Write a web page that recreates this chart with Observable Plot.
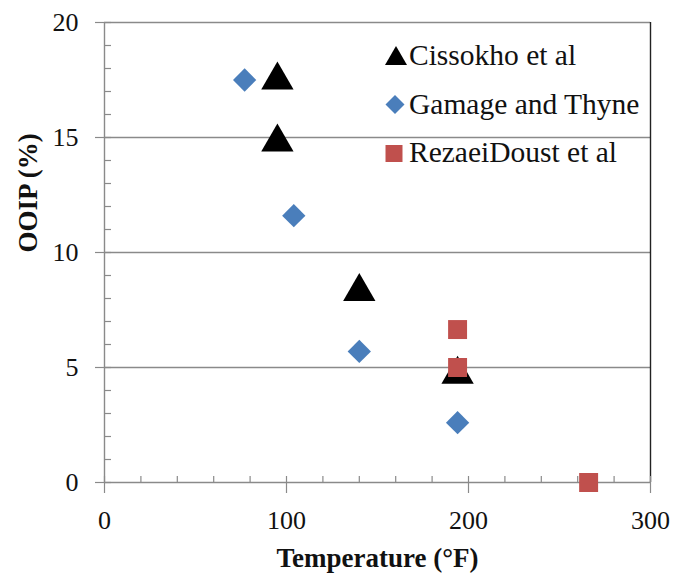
<!DOCTYPE html>
<html>
<head>
<meta charset="utf-8">
<script src="https://cdn.jsdelivr.net/npm/d3@7"></script>
<script src="https://cdn.jsdelivr.net/npm/@observablehq/plot@0.6"></script>
<style>
  html, body { margin: 0; padding: 0; background: #fff; }
  #wrap { position: relative; width: 673px; height: 578px; font-family: "Liberation Serif", "Times New Roman", serif; }
  #legend { position: absolute; left: 0; top: 0; width: 673px; height: 578px; pointer-events: none; overflow: visible; }
  .lg-text { font-family: "Liberation Serif", "Times New Roman", serif; font-size: 29.5px; fill: #111; }
</style>
</head>
<body>
<div id="wrap"></div>
<script>
// ---- Data ----
const seriesNames = ["Cissokho et al", "Gamage and Thyne", "RezaeiDoust et al"];
const seriesColors = ["#000000", "#4a7ebb", "#c0504d"];
const seriesSymbols = ["triangle", "diamond2", "square"];

const cissokhoTemp = [95, 95, 140, 194];
const cissokhoOOIP = [17.7, 15.0, 8.5, 4.9];

const gamageTemp = [77, 104, 140, 194];
const gamageOOIP = [17.5, 11.6, 5.7, 2.6];

const rezaeiTemp = [194, 194, 266];
const rezaeiOOIP = [6.65, 5.0, 0.0];

const xTicks = [0, 100, 200, 300];
const yTicks = [0, 5, 10, 15, 20];
const xMinorTicks = d3.range(0, 301, 20);
const yMinorTicks = d3.range(0, 21, 1);

const xTitle = "Temperature (°F)";
const yTitle = "OOIP (%)";

// ---- Build tables ----
const toRows = (xs, ys) => xs.map((x, i) => ({x, y: ys[i]}));
const cissokho = toRows(cissokhoTemp, cissokhoOOIP);
const gamage = toRows(gamageTemp, gamageOOIP);
const rezaei = toRows(rezaeiTemp, rezaeiOOIP);

const grid = "#8a8a8a";

const chart = Plot.plot({
  width: 673,
  height: 578,
  marginLeft: 104,
  marginRight: 23,
  marginTop: 22,
  marginBottom: 96,
  style: {fontFamily: "'Liberation Serif', 'Times New Roman', serif", fontSize: "26px", color: "#111", background: "#fff", overflow: "visible"},
  x: {domain: [0, 300]},
  y: {domain: [0, 20]},
  marks: [
    // gridlines
    Plot.ruleY(yTicks.filter(d => d > 0), {stroke: grid, strokeWidth: 1.4}),
    // axis lines
    Plot.ruleX([0], {stroke: grid, strokeWidth: 1.4}),
    Plot.ruleY([0], {stroke: grid, strokeWidth: 1.4}),
    Plot.ruleX([300], {stroke: "#222", strokeWidth: 1.4}),
    // minor ticks (inward)
    Plot.axisY({ticks: yMinorTicks, tickSize: -7, text: null, label: null, stroke: grid, strokeWidth: 1.2}),
    Plot.axisX({ticks: xMinorTicks, tickSize: -6, text: null, label: null, stroke: grid, strokeWidth: 1.2}),
    // major ticks with labels
    Plot.axisY({ticks: yTicks, tickSize: 9, tickPadding: 17, label: null, stroke: grid, strokeWidth: 1.2, tickFormat: d => String(d), fill: "#111"}),
    Plot.axisX({ticks: xTicks, tickSize: 11, tickPadding: 17, label: null, stroke: grid, strokeWidth: 1.2, tickFormat: d => String(d), fill: "#111"}),
    // axis titles
    Plot.text([xTitle], {frameAnchor: "bottom", dy: 84, fontWeight: "bold", fontSize: 27, fill: "#111"}),
    Plot.text([yTitle], {frameAnchor: "left", dx: -76, rotate: -90, fontWeight: "bold", fontSize: 27, fill: "#111"}),
    // data
    Plot.dot(gamage, {x: "x", y: "y", symbol: () => seriesSymbols[1], r: 10.5, fill: seriesColors[1], stroke: "none"}),
    Plot.dot(cissokho, {x: "x", y: "y", symbol: () => seriesSymbols[0], r: 12, dy: 4.7, fill: seriesColors[0], stroke: "none"}),
    Plot.dot(rezaei, {x: "x", y: "y", symbol: () => seriesSymbols[2], r: 10.7, fill: seriesColors[2], stroke: "none"})
  ]
});

const wrap = document.getElementById("wrap");
wrap.appendChild(chart);

// ---- Legend overlay (inside the plot area, top right) ----
const baselines = [65, 114, 162];
const symbolSpecs = [
  {type: d3.symbolTriangle, size: 209, cx: 396, dyFromBase: -6.35},
  {type: d3.symbolDiamond2, size: 230, cx: 395, dyFromBase: -9.5},
  {type: d3.symbolSquare, size: 289, cx: 394, dyFromBase: -8.5}
];
const legend = d3.create("svg")
  .attr("id", "legend")
  .attr("width", 673)
  .attr("height", 578);
seriesNames.forEach((name, i) => {
  const s = symbolSpecs[i];
  legend.append("path")
    .attr("d", d3.symbol(s.type, s.size)())
    .attr("transform", `translate(${s.cx},${baselines[i] + s.dyFromBase})`)
    .attr("fill", seriesColors[i]);
  legend.append("text")
    .attr("class", "lg-text")
    .attr("x", 409)
    .attr("y", baselines[i])
    .text(name);
});
wrap.appendChild(legend.node());
</script>
</body>
</html>
